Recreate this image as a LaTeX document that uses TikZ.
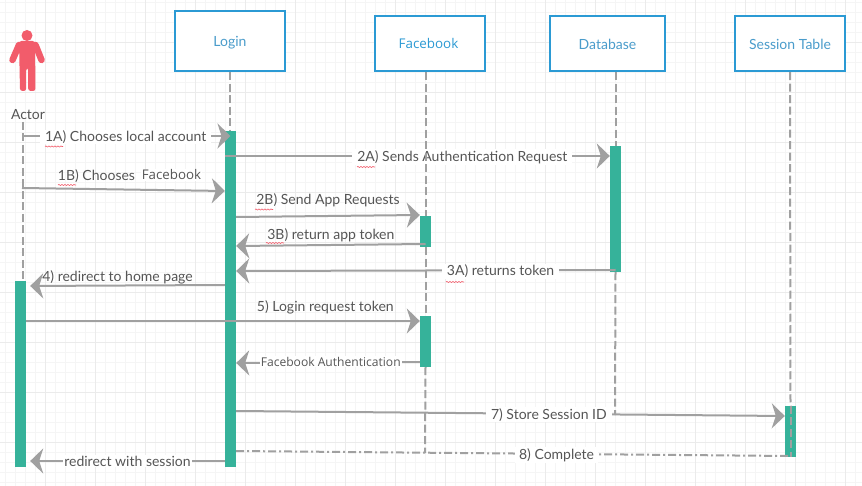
\documentclass[tikz,border=0pt]{standalone}
\usepackage{fontspec}
\setmainfont{Lato}
\newfontfamily\pastedfont{Open Sans}
\usepackage{xcolor}
\usetikzlibrary{arrows.meta,decorations.pathmorphing}
\definecolor{SeqBlue}{HTML}{2B9AD4}
\definecolor{SeqBlueText}{HTML}{4A9CCB}
\definecolor{SeqGreen}{HTML}{36B29A}
\definecolor{SeqGray}{HTML}{A0A0A0}
\definecolor{SeqText}{HTML}{555555}
\definecolor{SeqRed}{HTML}{F25C6B}
\definecolor{SeqGrid}{HTML}{F5F5F5}
\definecolor{SeqGridMajor}{HTML}{EBEBEB}
\tikzset{
  lifebox/.style={draw=SeqBlue,fill=white,line width=2.5pt,inner sep=0pt,text=SeqBlueText,font=\fontsize{14}{16}\selectfont},
  activation/.style={fill=SeqGreen,minimum width=11pt,inner sep=0pt},
  lifeline/.style={draw=SeqGray,line width=2pt,dash pattern=on 8pt off 3.5pt},
  msg/.style={draw=SeqGray,line width=2pt,-{Stealth[length=13pt,width=25pt,inset=4pt]}},
  msglabel/.style={fill=white,inner xsep=5pt,inner ysep=1pt,yshift=-1pt,text=SeqText,font=\fontsize{14}{16}\selectfont},
  tightlabel/.style={msglabel,inner xsep=1pt,yshift=1pt},
  overlabel/.style={inner sep=1pt,yshift=-1pt,text=SeqText,font=\fontsize{14}{16}\selectfont},
  pastedlabel/.style={text=SeqText,font=\pastedfont\fontsize{12.1}{14}\selectfont},
  squiggle/.style={draw=SeqRed,line width=.6pt,decorate,decoration={snake,amplitude=.6pt,segment length=3pt}}
}
\begin{document}
\begin{tikzpicture}[x=1pt,y=-1pt]
  \useasboundingbox (0,0) rectangle (862,486);
  \fill[white] (0,0) rectangle (862,486);
  \foreach \gx in {0,...,86} \draw[SeqGrid,line width=.7pt] (5+\gx*10,0) -- (5+\gx*10,486);
  \foreach \gy in {0,...,48} \draw[SeqGrid,line width=.7pt] (0,2+\gy*10) -- (862,2+\gy*10);
  \foreach \gx in {0,...,17} \draw[SeqGridMajor,line width=.7pt] (-5+\gx*50,0) -- (-5+\gx*50,486);
  \foreach \gy in {0,...,9} \draw[SeqGridMajor,line width=.7pt] (0,-8+\gy*50) -- (862,-8+\gy*50);
  % actor figure
  \fill[SeqRed] (27,35.5) circle (5.5pt);
  \fill[SeqRed,rounded corners=2.5pt] (19,41) -- (35,41) -- (35.5,91) -- (28.2,91) -- (28.2,68) -- (26.2,68) -- (26.2,91) -- (20,91) -- cycle;
  \draw[SeqRed,line width=6.5pt,line cap=round] (19,45) -- (12.5,60);
  \draw[SeqRed,line width=6.5pt,line cap=round] (35.5,45) -- (41.5,60);
  \node[overlabel] (actor) at (28,114) {Actor};
  % boxes
  \node[lifebox,minimum width=110pt,minimum height=60pt,text height=11pt,text depth=0pt] (login) at (230,41) {Login};
  \node[lifebox,minimum width=110pt,minimum height=55pt,text=SeqBlue,font=\pastedfont\fontsize{13.4}{15}\selectfont] (facebook) at (430,43.5) {\hspace*{-3pt}Facebook};
  \node[lifebox,minimum width=115pt,minimum height=55pt,text height=12pt,text depth=0pt] (database) at (607.5,43.5) {Database};
  \node[lifebox,minimum width=110pt,minimum height=55pt,text height=12pt,text depth=0pt] (session) at (790,43.5) {Session Table};
  % activations
  \node[activation,minimum height=186pt] (actorbar) at (20.5,374) {};
  \node[activation,minimum height=336pt] (loginbar) at (230.5,299) {};
  \node[activation,minimum height=31pt] (fbbarA) at (425.5,231.5) {};
  \node[activation,minimum height=51pt] (fbbarB) at (425.5,341.5) {};
  \node[activation,minimum height=126pt] (dbbar) at (615.5,209) {};
  \node[activation,minimum height=51pt] (sessbar) at (790.5,431.5) {};
  \coordinate (actortop) at (23,122);
  \coordinate (fbend) at (425,453);
  \coordinate (dbend) at (615,415);
  % messages
  \draw[msg] (actortop |- 0,136) -- node[msglabel,pos=.495] {1A) Chooses local account} (loginbar.center |- 0,136);
  \draw[msg] (22,188) -- (loginbar.west |- 0,191);
  \node[overlabel] (chooses) at (96.5,175) {1B) Chooses};
  \node[pastedlabel,fill=white,inner sep=1pt,font=\pastedfont\fontsize{13.3}{15}\selectfont] (chosenfb) at (171.5,175) {Facebook};
  \draw[msg] (loginbar.west |- 0,156) -- node[msglabel,pos=.617] {2A) Sends Authentication Request} (dbbar.west |- 0,156);
  \draw[msg] (loginbar.east |- 0,217) -- node[overlabel,pos=.5,above=8pt] {2B) Send App Requests} (fbbarA.west |- 0,215);
  \draw[msg] (fbbarA.center |- 0,244) -- node[overlabel,pos=.5,above=2pt] {3B) return app token} (loginbar.east |- 0,246);
  \draw[msg] (dbbar.center |- 0,270) -- node[msglabel,pos=.303] {3A) returns token} (loginbar.east |- 0,271);
  \draw[msg,shorten >=4pt] (loginbar.west |- 0,285) -- node[overlabel,pos=.54,above=0pt] {4) redirect to home page} (actorbar.east |- 0,286);
  \draw[msg] (actorbar.east |- 0,321) -- node[overlabel,pos=.76,above=6pt] {5) Login request token} (fbbarB.west |- 0,321);
  \draw[msg] (fbbarB.west |- 0,362) -- node[tightlabel,pastedlabel,pos=.485,yshift=1pt] {Facebook Authentication} (loginbar.east |- 0,363);
  \draw[msg] (loginbar.east |- 0,411) -- node[msglabel,pos=.57] {7) Store Session ID} (sessbar.west |- 0,416);
  \draw[draw=SeqGray,line width=2pt,dash pattern=on 8pt off 3pt on 2pt off 3pt] (loginbar.east |- 0,451) -- node[msglabel,inner xsep=4pt,pos=.578] {8) Complete} (sessbar.center |- 0,456);
  \draw[msg,shorten >=4pt] (loginbar.west |- 0,461) -- node[tightlabel,pos=.49] {redirect with session} (actorbar.east |- 0,461);
  % lifelines
  \draw[lifeline] (login.south) -- (loginbar.north -| login.south);
  \draw[lifeline] (actortop) -- (actorbar.north -| actortop);
  \draw[lifeline] (facebook.south -| fbbarA.center) -- (fbbarA.north);
  \draw[lifeline] (fbbarA.south) -- (fbbarB.north);
  \draw[lifeline] (fbbarB.south) -- (fbend);
  \draw[lifeline] (database.south -| dbbar.center) -- (dbbar.north);
  \draw[lifeline] (dbbar.south) -- (dbend);
  \draw[lifeline] (session.south) -- (sessbar.north);
  \draw[lifeline] (sessbar.north) -- (sessbar.south);
  % spelling marks
  \foreach \sx/\sy in {45/146.5,58/185,255/209.5,266/243,357/167,446/282}
    \draw[squiggle] (\sx,\sy) -- (\sx+18,\sy);
\end{tikzpicture}
\end{document}
